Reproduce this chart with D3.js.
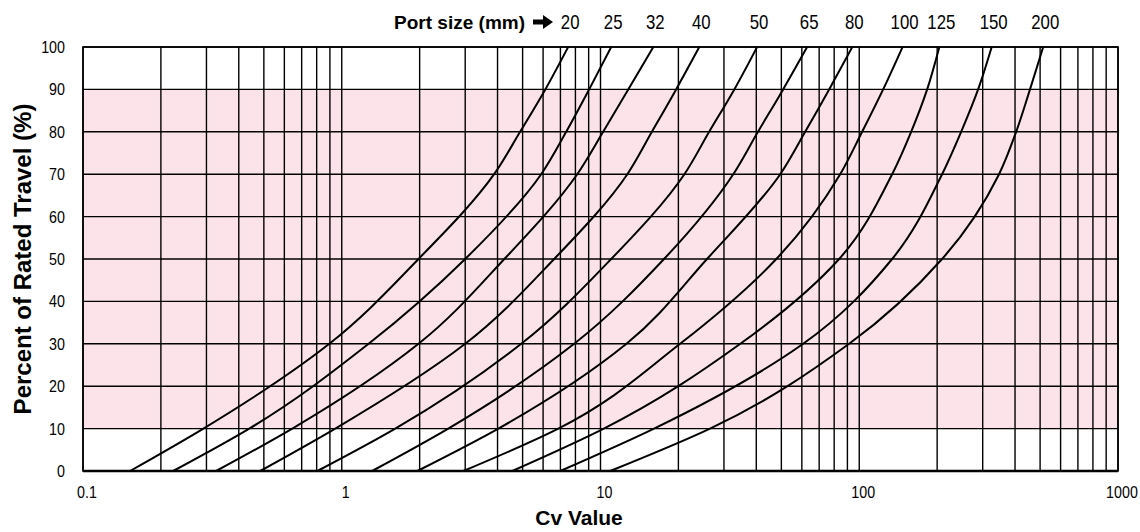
<!DOCTYPE html>
<html>
<head>
<meta charset="utf-8">
<script src="https://cdn.jsdelivr.net/npm/d3@7"></script>
<style>
  body { margin: 0; background: #fff; }
  .num { font-family: "Liberation Sans", Arial, sans-serif; }
  .bold { font-family: "Liberation Sans", Arial, sans-serif; font-weight: bold; }
</style>
</head>
<body>
<div id="chart"></div>
<script>
const travel = [0, 10, 30, 50, 70, 80, 90, 100];

const portSizes = [20, 25, 32, 40, 50, 65, 80, 100, 125, 150, 200];

// Cv value per port size at each travel level
const cv20  = [0.152, 0.292, 0.895, 1.98, 3.88, 4.89, 6.12, 7.5];
const cv25  = [0.223, 0.439, 1.27, 3.0, 5.9, 7.37, 9.04, 11.0];
const cv32  = [0.327, 0.644, 1.98, 4.25, 8.13, 10.24, 12.8, 16.0];
const cv40  = [0.484, 0.944, 3.0, 6.62, 12.7, 15.8, 19.6, 24.1];
const cv50  = [0.805, 1.61, 4.94, 11.0, 21.1, 26.3, 32.9, 40.3];
const cv65  = [1.31, 2.58, 7.91, 17.6, 32.6, 40.6, 50.8, 62.9];
const cv80  = [1.96, 4.03, 12.6, 25.8, 49.5, 61.8, 76.5, 94.0];
const cv100 = [2.95, 6.87, 20.3, 47.8, 84.4, 102.6, 123.7, 147];
const cv125 = [4.56, 10.3, 34.7, 83.6, 134, 158.7, 183, 204];
const cv150 = [6.99, 16.1, 60.7, 134, 209, 247.6, 288, 325];
const cv200 = [10.9, 26.5, 91.4, 209, 347, 404, 457, 514];

const xLabels = [0.1, 1, 10, 100, 1000];
const yTicks = [0, 10, 20, 30, 40, 50, 60, 70, 80, 90, 100];
const band = [10, 90];

const curves = [cv20, cv25, cv32, cv40, cv50, cv65, cv80, cv100, cv125, cv150, cv200];

const width = 1140, height = 532;
const margin = {top: 47, right: 22, bottom: 61, left: 83};
const narrow = 0.84;   // condensed look for the numbers

const x = d3.scaleLog()
    .domain([0.1, 1000])
    .range([margin.left, width - margin.right]);

const y = d3.scaleLinear()
    .domain([0, 100])
    .range([height - margin.bottom, margin.top]);

const svg = d3.select("#chart").append("svg")
    .attr("width", width)
    .attr("height", height)
    .attr("viewBox", [0, 0, width, height]);

// pink band
svg.append("rect")
    .attr("x", x(0.1))
    .attr("y", y(band[1]))
    .attr("width", x(1000) - x(0.1))
    .attr("height", y(band[0]) - y(band[1]))
    .attr("fill", "#fce3ea");

// vertical grid (1..9 per decade)
svg.append("g")
    .selectAll("line")
    .data(x.ticks())
    .join("line")
    .attr("x1", d => x(d)).attr("x2", d => x(d))
    .attr("y1", y(0)).attr("y2", y(100))
    .attr("stroke", "#000")
    .attr("stroke-width", 1.4);

// horizontal grid
svg.append("g")
    .selectAll("line")
    .data(yTicks)
    .join("line")
    .attr("x1", x(0.1)).attr("x2", x(1000))
    .attr("y1", d => y(d)).attr("y2", d => y(d))
    .attr("stroke", "#000")
    .attr("stroke-width", 1.4);

// frame
svg.append("rect")
    .attr("x", x(0.1)).attr("y", y(100))
    .attr("width", x(1000) - x(0.1))
    .attr("height", y(0) - y(100))
    .attr("fill", "none")
    .attr("stroke", "#000")
    .attr("stroke-width", 1.6);

svg.append("line")
    .attr("x1", x(0.1)).attr("x2", x(1000))
    .attr("y1", y(0)).attr("y2", y(0))
    .attr("stroke", "#000")
    .attr("stroke-width", 2.6);

// curves
const line = d3.line()
    .x(d => x(d[0]))
    .y(d => y(d[1]))
    .curve(d3.curveMonotoneY);

svg.append("g")
    .selectAll("path")
    .data(curves)
    .join("path")
    .attr("d", c => line(c.map((v, i) => [v, travel[i]])))
    .attr("fill", "none")
    .attr("stroke", "#000")
    .attr("stroke-width", 2)
    .attr("stroke-linejoin", "round");

// y tick labels
svg.append("g")
    .selectAll("text")
    .data(yTicks)
    .join("text")
    .attr("class", "num")
    .attr("transform", d => `translate(65,${y(d) + 6}) scale(${narrow},1)`)
    .attr("text-anchor", "end")
    .attr("font-size", 17)
    .text(d => d);

// x tick labels
svg.append("g")
    .selectAll("text")
    .data(xLabels)
    .join("text")
    .attr("class", "num")
    .attr("transform", d => `translate(${x(d) + 4},498) scale(${narrow},1)`)
    .attr("text-anchor", "middle")
    .attr("font-size", 17)
    .text(d => d);

// axis titles
svg.append("text")
    .attr("class", "bold")
    .attr("transform", `translate(31,${(y(0) + y(100)) / 2}) rotate(-90)`)
    .attr("text-anchor", "middle")
    .attr("font-size", 24)
    .text("Percent of Rated Travel (%)");

svg.append("text")
    .attr("class", "bold")
    .attr("x", 579)
    .attr("y", 525)
    .attr("text-anchor", "middle")
    .attr("font-size", 21)
    .text("Cv Value");

// port size header
svg.append("text")
    .attr("class", "bold")
    .attr("x", 525)
    .attr("y", 29)
    .attr("text-anchor", "end")
    .attr("font-size", 19)
    .text("Port size (mm)");

svg.append("path")
    .attr("d", "M533,19.5H543V15L553,22L543,29V24.5H533Z")
    .attr("fill", "#000");

svg.append("g")
    .selectAll("text")
    .data(portSizes)
    .join("text")
    .attr("class", "num")
    .attr("transform", (d, i) => `translate(${x(curves[i][curves[i].length - 1]) + 2},29) scale(${narrow},1)`)
    .attr("text-anchor", "middle")
    .attr("font-size", 20)
    .text(d => d);
</script>
</body>
</html>
